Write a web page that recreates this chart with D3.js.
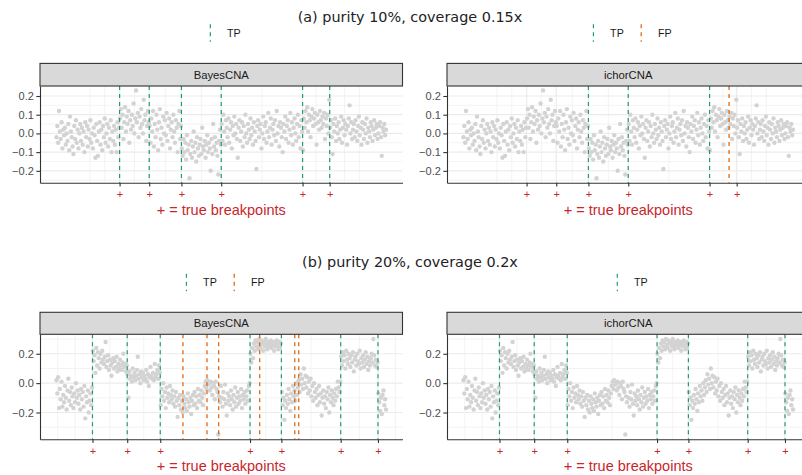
<!DOCTYPE html>
<html>
<head>
<meta charset="utf-8">
<script src="https://cdn.jsdelivr.net/npm/d3@7"></script>
<style>
  body { margin: 0; background: #fff; }
  svg { display: block; }
</style>
</head>
<body>
<script>
// (a) purity 10%, coverage 0.15x : log ratio per bin, in genome order
var ratioA = [
  // bins 1-75
  -0.02, 0.04, -0.05, 0.12, 0.01, -0.03, 0.06, -0.08, 0.02, -0.01,
  0.03, -0.06, 0.00, -0.04, 0.05, -0.09, 0.09, 0.01, -0.02, -0.07,
  -0.11, 0.04, -0.03, 0.07, -0.05, 0.02, -0.08, 0.00, 0.05, -0.04,
  0.03, -0.06, 0.01, -0.10, 0.06, -0.02, 0.04, -0.07, 0.02, -0.03,
  0.07, -0.05, 0.00, -0.08, 0.03, -0.01, -0.13, 0.05, -0.04, -0.12,
  0.01, 0.06, -0.06, 0.02, -0.09, 0.04, -0.02, 0.08, -0.05, 0.00,
  0.05, -0.07, 0.03, -0.03, 0.07, -0.10, 0.01, -0.04, 0.04, -0.06,
  0.02, -0.10, 0.06, -0.02, 0.03,
  // 76-110
  0.08, 0.13, 0.03, 0.10, -0.03, 0.06, 0.14, 0.01, 0.09, 0.05,
  0.12, -0.05, 0.07, 0.02, 0.10, 0.04, 0.16, 0.00, 0.08, 0.23,
  0.06, 0.11, -0.02, 0.09, 0.03, 0.13, 0.05, 0.00, 0.18, 0.07,
  0.10, -0.04, 0.04, 0.12, 0.06,
  // 111-148
  0.04, -0.05, 0.08, 0.01, 0.12, -0.07, 0.05, -0.02, 0.10, 0.02,
  -0.09, 0.06, 0.13, -0.03, 0.03, -0.06, 0.09, 0.00, 0.07, -0.01,
  0.11, -0.04, 0.04, 0.08, -0.08, 0.02, 0.06, -0.02, 0.10, 0.01,
  -0.05, 0.07, 0.03, -0.10, 0.05, 0.12, -0.03, 0.04,
  // 149-195
  -0.08, -0.12, -0.03, -0.10, -0.05, -0.14, -0.01, -0.09, -0.06, -0.24,
  -0.11, -0.04, -0.13, -0.07, 0.01, -0.10, -0.05, -0.15, -0.02, -0.08,
  -0.12, -0.06, -0.03, -0.11, 0.03, -0.07, -0.09, -0.04, -0.13, -0.06,
  -0.01, -0.10, -0.05, -0.08, -0.20, -0.03, -0.11, 0.05, -0.07, -0.02,
  -0.09, -0.05, -0.12, -0.22, -0.04, 0.02, -0.06,
  // 196-291
  0.05, -0.04, 0.10, 0.01, -0.06, 0.07, 0.03, -0.02, 0.08, -0.05,
  0.02, 0.06, -0.08, 0.04, -0.01, 0.09, 0.00, 0.05, -0.03, -0.13,
  0.03, 0.07, -0.04, 0.01, 0.06, -0.07, 0.04, -0.02, 0.10, 0.00,
  -0.05, 0.05, 0.02, -0.03, 0.08, -0.01, 0.03, -0.06, 0.06, 0.01,
  -0.04, -0.19, 0.04, 0.07, -0.02, 0.02, 0.05, -0.08, 0.00, 0.09,
  -0.03, 0.04, 0.06, -0.05, 0.01, 0.11, -0.02, 0.03, 0.08, -0.06,
  0.02, 0.05, -0.01, 0.07, -0.04, 0.12, 0.00, 0.04, -0.07, 0.06,
  0.03, -0.02, -0.10, 0.05, 0.01, 0.09, -0.03, 0.04, 0.07, -0.05,
  0.02, 0.11, -0.01, 0.06, -0.06, 0.03, 0.08, 0.00, -0.04, 0.05,
  0.10, -0.02, 0.04, -0.08, 0.07, 0.01,
  // 292-323
  -0.09, 0.08, 0.03, 0.12, 0.06, 0.14, 0.01, 0.10, 0.07, -0.02,
  0.09, 0.13, 0.04, 0.08, 0.11, 0.05, -0.06, 0.10, 0.06, 0.02,
  0.12, 0.07, 0.03, 0.09, 0.05, 0.11, -0.03, 0.08, 0.04, 0.10,
  0.00, 0.18,
  // 324-390
  0.03, 0.07, -0.02, -0.11, 0.05, 0.01, 0.08, -0.04, 0.04, 0.00,
  0.06, -0.03, 0.02, 0.09, -0.05, 0.03, 0.07, -0.01, 0.05, 0.02,
  -0.06, 0.04, 0.08, 0.15, 0.00, 0.06, -0.03, 0.02, 0.05, -0.02,
  0.07, 0.01, -0.04, 0.04, 0.09, -0.01, 0.03, -0.06, 0.06, 0.02,
  -0.03, 0.05, 0.00, 0.08, -0.05, 0.03, 0.01, -0.02, 0.06, 0.04,
  -0.04, 0.02, 0.07, -0.01, 0.03, 0.05, -0.03, 0.00, 0.04, 0.06,
  -0.02, -0.12, 0.03, 0.01, 0.05, -0.01, 0.02
];
var breaksA = [75.5, 110.5, 148.5, 195.5, 291.5, 323.5];
var bayesTpA = [75.5, 110.5, 148.5, 195.5, 291.5, 323.5];
var bayesFpA = [];
var ichorTpA = [148.5, 195.5, 291.5];
var ichorFpA = [314.5];

// (b) purity 20%, coverage 0.2x
var ratioB = [
  // bins 1-43
  0.02, -0.07, 0.04, -0.17, -0.04, -0.11, 0.01, -0.16, -0.08, -0.13,
  -0.02, -0.10, -0.18, -0.05, 0.03, -0.12, -0.06, -0.15, -0.03, -0.09,
  -0.17, -0.07, -0.13, 0.00, -0.10, -0.05, -0.14, -0.08, -0.18, -0.04,
  -0.11, -0.06, -0.16, -0.02, -0.24, -0.09, -0.13, -0.05, -0.20, -0.12,
  -0.07, -0.15, -0.03,
  // 44-84
  0.22, 0.15, 0.19, 0.07, 0.24, 0.12, 0.21, 0.17, 0.10, 0.20,
  0.14, 0.22, 0.16, 0.13, 0.18, 0.28, 0.11, 0.15, 0.19, 0.09,
  0.16, 0.12, 0.05, 0.14, 0.17, 0.10, 0.15, 0.11, 0.18, 0.08,
  0.13, 0.10, 0.16, 0.12, 0.09, 0.14, 0.20, 0.11, 0.13, 0.08,
  0.12,
  // 85-123
  0.06, -0.10, 0.08, 0.03, 0.05, 0.01, 0.10, 0.04, 0.07, 0.02,
  0.05, 0.09, 0.18, 0.03, 0.06, 0.00, 0.08, 0.04, 0.07, 0.02,
  0.05, 0.03, 0.09, 0.01, 0.06, -0.02, 0.04, 0.11, 0.05, 0.03,
  0.07, 0.02, 0.13, 0.04, 0.06, 0.09, 0.03, 0.12, 0.07,
  // 124-229
  -0.15, -0.04, -0.09, 0.00, -0.12, -0.06, -0.17, -0.03, -0.10, -0.07,
  -0.13, -0.02, -0.08, -0.11, -0.05, -0.14, -0.09, -0.16, -0.06, -0.12,
  -0.23, -0.10, -0.15, -0.08, -0.18, -0.12, -0.20, -0.09, -0.14, -0.17,
  -0.11, -0.19, -0.07, -0.13, -0.16, -0.10, -0.21, -0.12, -0.08, -0.15,
  -0.06, -0.14, -0.09, -0.17, -0.04, -0.12, -0.08, -0.13, -0.05, -0.10,
  -0.15, -0.07, -0.02, 0.01, -0.04, 0.02, -0.01, 0.00, -0.05, 0.01,
  -0.03, -0.08, 0.00, -0.02, -0.11, 0.01, -0.04, -0.06, -0.35, -0.09,
  -0.13, -0.02, -0.10, -0.16, -0.06, -0.11, -0.01, -0.14, -0.22, -0.07,
  -0.12, -0.09, -0.15, -0.05, -0.11, -0.18, -0.08, -0.13, -0.03, -0.16,
  -0.10, -0.06, -0.14, -0.09, -0.12, -0.04, -0.17, -0.08, -0.11, -0.06,
  -0.14, -0.09, -0.05, -0.12, -0.02, 0.00,
  // 230-266
  0.20, 0.14, 0.24, 0.17, 0.27, 0.22, 0.29, 0.25, 0.28, 0.23,
  0.30, 0.26, 0.24, 0.29, 0.27, 0.22, 0.28, 0.25, 0.30, 0.26,
  0.23, 0.28, 0.25, 0.27, 0.29, 0.24, 0.26, 0.28, 0.22, 0.27,
  0.25, 0.29, 0.26, 0.23, 0.28, 0.24, 0.27,
  // 267-336
  -0.06, -0.15, -0.10, -0.25, -0.12, -0.17, -0.08, -0.14, -0.04, -0.11,
  -0.19, -0.07, -0.13, -0.02, -0.09, -0.05, -0.12, 0.00, -0.08, -0.03,
  0.02, -0.06, 0.06, -0.01, 0.03, -0.04, 0.10, 0.00, 0.05, -0.03,
  0.04, -0.07, 0.01, -0.05, 0.03, -0.09, -0.02, -0.12, 0.00, -0.06,
  -0.10, -0.04, -0.15, -0.08, -0.02, -0.13, -0.07, -0.22, -0.10, -0.05,
  -0.14, -0.09, -0.17, -0.06, -0.11, -0.03, -0.20, -0.08, -0.13, -0.05,
  -0.10, -0.15, -0.07, -0.12, -0.04, -0.09, 0.01, -0.03, -0.06, 0.01,
  // 337-380
  0.18, 0.12, 0.21, 0.15, 0.19, 0.10, 0.22, 0.16, 0.13, 0.20,
  0.17, 0.11, 0.19, 0.14, 0.21, 0.08, 0.16, 0.18, 0.12, 0.20,
  0.15, 0.13, 0.22, 0.10, 0.17, 0.14, 0.19, 0.11, 0.16, 0.21,
  0.13, 0.18, 0.09, 0.15, 0.12, 0.17, 0.20, 0.14, 0.30, 0.19,
  0.12, 0.16, 0.11, 0.14,
  // 381-390
  -0.07, -0.13, -0.19, -0.10, -0.21, -0.08, -0.05, -0.15, -0.11, -0.18
];
var breaksB = [43.5, 84.5, 123.5, 229.5, 266.5, 336.5, 380.5];
var bayesTpB = [43.5, 84.5, 123.5, 229.5, 266.5, 336.5, 380.5];
var bayesFpB = [150.3, 178.7, 192.5, 240.9, 282.3, 287.0];
var ichorTpB = [43.5, 84.5, 123.5, 229.5, 266.5, 336.5, 380.5];
var ichorFpB = [];

var titles = ["(a) purity 10%, coverage 0.15x", "(b) purity 20%, coverage 0.2x"];
var methods = ["BayesCNA", "ichorCNA"];
var callTypes = ["TP", "FP"];

var width = 802, height = 475;
var svg = d3.select("body").append("svg").attr("width", width).attr("height", height);

var panelW = 362.5;
var cols = [40, 447];
var rows = [
  { title: 21.5, legend: 33, strip: 63.4, top: 86, bottom: 182.7 },
  { title: 267.3, legend: 282.5, strip: 312.3, top: 334.3, bottom: 439.3 }
];
var sans = "'Liberation Sans', Arial, Helvetica, sans-serif";
var callColor = d3.scaleOrdinal().domain(callTypes).range(["#1b9e77", "#d95f02"]);
var red = "#c8262b";

var panels = [
  { row: 0, col: 0, values: ratioA, breaks: breaksA, tp: bayesTpA, fp: bayesFpA },
  { row: 0, col: 1, values: ratioA, breaks: breaksA, tp: ichorTpA, fp: ichorFpA },
  { row: 1, col: 0, values: ratioB, breaks: breaksB, tp: bayesTpB, fp: bayesFpB },
  { row: 1, col: 1, values: ratioB, breaks: breaksB, tp: ichorTpB, fp: ichorFpB }
];

function expand(ext) {
  var pad = (ext[1] - ext[0]) * 0.05;
  return [ext[0] - pad, ext[1] + pad];
}

// ggplot-style minor breaks: midpoints, plus one step beyond the outer majors
function minorBreaks(b, dom) {
  var lo = Math.min(dom[0], dom[1]), hi = Math.max(dom[0], dom[1]);
  var bd = b[1] - b[0], m = b.slice(), out = [];
  if (lo < m[0]) { m.unshift(m[0] - bd); out.push(m[0]); }
  if (hi > m[m.length - 1]) { m.push(m[m.length - 1] + bd); out.push(m[m.length - 1]); }
  for (var i = 0; i < m.length - 1; i++) out.push((m[i] + m[i + 1]) / 2);
  return out.filter(function (v) { return v >= lo && v <= hi; });
}

titles.forEach(function (t, i) {
  svg.append("text").attr("x", 410).attr("y", rows[i].title)
    .attr("text-anchor", "middle").attr("fill", "#222")
    .attr("font-family", "'DejaVu Sans', Verdana, sans-serif").attr("font-size", "14.4px")
    .text(t);
});

panels.forEach(function (p) {
  var r = rows[p.row], x0 = cols[p.col];
  var x = d3.scaleLinear().domain(expand([1, p.values.length])).range([x0, x0 + panelW]);
  var y = d3.scaleLinear().domain(expand(d3.extent(p.values))).range([r.bottom, r.top]);
  var yMajor = y.ticks(5);
  var g = svg.append("g");

  // grid
  var grid = g.append("g").attr("stroke", "#ebebeb").attr("fill", "none");
  grid.selectAll(".ymin").data(minorBreaks(yMajor, y.domain())).enter().append("line")
    .attr("x1", x0).attr("x2", x0 + panelW)
    .attr("y1", function (d) { return y(d); }).attr("y2", function (d) { return y(d); })
    .attr("stroke-width", 0.6);
  grid.selectAll(".xmin").data(minorBreaks(p.breaks, x.domain())).enter().append("line")
    .attr("y1", r.top).attr("y2", r.bottom)
    .attr("x1", function (d) { return x(d); }).attr("x2", function (d) { return x(d); })
    .attr("stroke-width", 0.6);
  grid.selectAll(".ymaj").data(yMajor).enter().append("line")
    .attr("x1", x0).attr("x2", x0 + panelW)
    .attr("y1", function (d) { return y(d); }).attr("y2", function (d) { return y(d); })
    .attr("stroke-width", 1.2);
  grid.selectAll(".xmaj").data(p.breaks).enter().append("line")
    .attr("y1", r.top).attr("y2", r.bottom)
    .attr("x1", function (d) { return x(d); }).attr("x2", function (d) { return x(d); })
    .attr("stroke-width", 1.2);

  // bins
  g.append("g").selectAll("circle").data(p.values).enter().append("circle")
    .attr("cx", function (d, i) { return x(i + 1); })
    .attr("cy", function (d) { return y(d); })
    .attr("r", 2.2).attr("fill", "#d3d3d3");

  // called breakpoints
  var calls = p.tp.map(function (v) { return { pos: v, type: "TP" }; })
    .concat(p.fp.map(function (v) { return { pos: v, type: "FP" }; }));
  g.append("g").selectAll("line").data(calls).enter().append("line")
    .attr("x1", function (d) { return x(d.pos); }).attr("x2", function (d) { return x(d.pos); })
    .attr("y1", r.top).attr("y2", r.bottom)
    .attr("stroke", function (d) { return callColor(d.type); })
    .attr("stroke-width", 1.2).attr("stroke-dasharray", "4,4");

  // axes
  var yAxis = g.append("g").attr("transform", "translate(" + x0 + ",0)")
    .call(d3.axisLeft(y).tickValues(yMajor).tickFormat(d3.format(".1f"))
      .tickSize(3.7).tickSizeOuter(0).tickPadding(2.5));
  var xAxis = g.append("g").attr("transform", "translate(0," + r.bottom + ")")
    .call(d3.axisBottom(x).tickValues(p.breaks).tickFormat(function () { return "+"; })
      .tickSize(3.7).tickSizeOuter(0).tickPadding(4));
  [yAxis, xAxis].forEach(function (a) {
    a.select(".domain").attr("stroke", "#333").attr("stroke-width", 1.1);
    a.selectAll(".tick line").attr("stroke", "#333").attr("stroke-width", 1.1);
    a.selectAll("text").attr("font-family", sans).attr("font-size", "11px");
  });
  yAxis.selectAll("text").attr("fill", "#4d4d4d");
  xAxis.selectAll("text").attr("fill", red);

  g.append("text").attr("x", x0 + panelW / 2).attr("y", r.bottom + 31.8)
    .attr("text-anchor", "middle").attr("fill", red)
    .attr("font-family", sans).attr("font-size", "14.5px")
    .text("+ = true breakpoints");

  // strip
  g.append("rect").attr("x", x0).attr("y", r.strip)
    .attr("width", panelW).attr("height", r.top - r.strip)
    .attr("fill", "#d9d9d9").attr("stroke", "#333").attr("stroke-width", 1.1);
  g.append("text").attr("x", x0 + panelW / 2).attr("y", (r.strip + r.top) / 2)
    .attr("dy", "0.35em").attr("text-anchor", "middle").attr("fill", "#1a1a1a")
    .attr("font-family", sans).attr("font-size", "11.3px")
    .text(methods[p.col]);

  // legend: only the call types present in this panel
  var present = callTypes.filter(function (t) {
    return calls.some(function (c) { return c.type === t; });
  });
  var leg = g.append("g");
  var cursor = 0, total = 0;
  present.forEach(function (t) {
    var e = leg.append("g").attr("transform", "translate(" + cursor + ",0)");
    e.append("line").attr("x1", 8.5).attr("x2", 8.5)
      .attr("y1", r.legend - 8.7).attr("y2", r.legend + 8.7)
      .attr("stroke", callColor(t)).attr("stroke-width", 1.2)
      .attr("stroke-dasharray", "4,4");
    var tx = e.append("text").attr("x", 25.2).attr("y", r.legend).attr("dy", "0.35em")
      .attr("font-family", sans).attr("font-size", "10.7px").attr("fill", "#1a1a1a").text(t);
    total = cursor + 25.2 + tx.node().getComputedTextLength();
    cursor = total + 8.9;
  });
  leg.attr("transform", "translate(" + (x0 + panelW / 2 - total / 2) + ",0)");
});
</script>
</body>
</html>
